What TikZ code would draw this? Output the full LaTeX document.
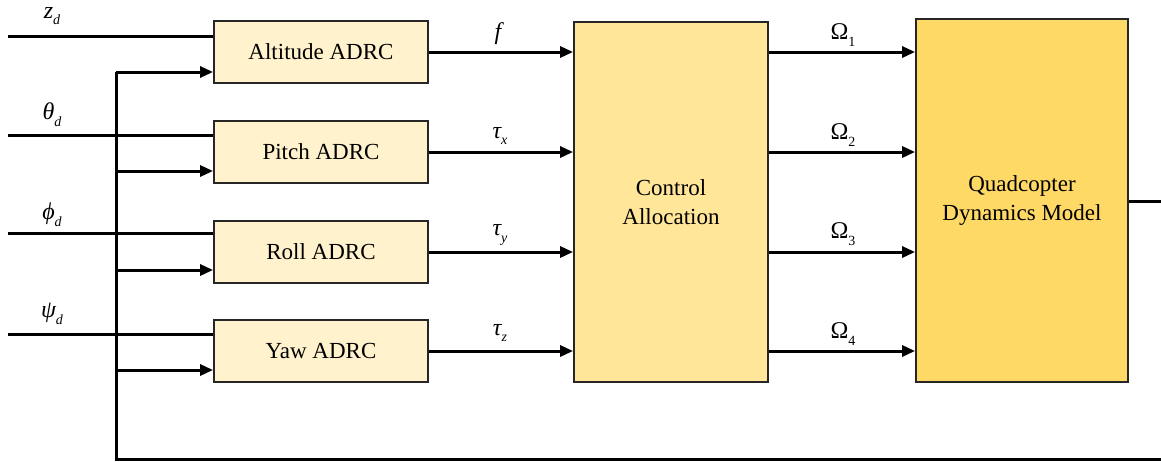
\documentclass[tikz,border=0pt]{standalone}
\usepackage{fontspec}
\setmainfont{Liberation Serif}
\usetikzlibrary{arrows.meta}
\definecolor{adrcfill}{HTML}{FFF2CC}
\definecolor{cafill}{HTML}{FFE699}
\definecolor{quadfill}{HTML}{FFD966}
\definecolor{boxline}{HTML}{262626}
\newcommand{\lblit}[2]{{\itshape #1}\raisebox{-0.28em}{\fontsize{14}{14}\selectfont\itshape #2}}
\newcommand{\lblup}[2]{#1\raisebox{-0.28em}{\fontsize{14}{14}\selectfont #2}}
\tikzset{
  blk/.style={draw=boxline, line width=1.8pt, align=center, inner sep=0pt,
    font=\fontsize{23}{29}\selectfont},
  adrc/.style={blk, fill=adrcfill, minimum width=214pt, minimum height=62pt},
  wire/.style={line width=3pt, black},
  arr/.style={wire, -{Triangle[length=13pt,width=11pt]}},
  lbl/.style={inner sep=0pt, font=\fontsize{24}{27}\selectfont}
}
\begin{document}
\begin{tikzpicture}[x=1pt,y=-1pt]
\useasboundingbox (0,0) rectangle (1161,461);
% blocks
\node[adrc] (alt) at (321,52) {Altitude ADRC};
\node[adrc] (pitch) at (321,152) {Pitch ADRC};
\node[adrc] (roll) at (321,252) {Roll ADRC};
\node[adrc] (yaw) at (321,351) {Yaw ADRC};
\node[blk, fill=cafill, minimum width=194pt, minimum height=360pt] (ca) at (671,202) {Control\\Allocation};
\node[blk, fill=quadfill, minimum width=212pt, minimum height=363pt] (quad) at (1022,200.5) {Quadcopter\\Dynamics Model};
% coordinates
\coordinate (in1) at (8,36);
\coordinate (in2) at (8,135);
\coordinate (in3) at (8,233);
\coordinate (in4) at (8,334);
\coordinate (fb1) at (116,72);
\coordinate (fb2) at (116,171);
\coordinate (fb3) at (116,270);
\coordinate (fb4) at (116,370);
\coordinate (fbB) at (116,459);
\coordinate (botR) at (1161,459);
\coordinate (outR) at (1161,201);
% reference inputs
\draw[wire] (in1) -- (in1 -| alt.west);
\draw[wire] (in2) -- (in2 -| pitch.west);
\draw[wire] (in3) -- (in3 -| roll.west);
\draw[wire] (in4) -- (in4 -| yaw.west);
% feedback
\draw[wire] (botR) -- (fbB) -- (fb1);
\draw[arr] (fb1) -- (fb1 -| alt.west);
\draw[arr] (fb2) -- (fb2 -| pitch.west);
\draw[arr] (fb3) -- (fb3 -| roll.west);
\draw[arr] (fb4) -- (fb4 -| yaw.west);
% ADRC to allocation
\draw[arr] (alt.east) -- (alt.east -| ca.west);
\draw[arr] (pitch.east) -- (pitch.east -| ca.west);
\draw[arr] (roll.east) -- (roll.east -| ca.west);
\draw[arr] (yaw.east) -- (yaw.east -| ca.west);
% allocation to quad
\coordinate (o1) at (ca.east |- alt.east);
\coordinate (o2) at (ca.east |- pitch.east);
\coordinate (o3) at (ca.east |- roll.east);
\coordinate (o4) at (ca.east |- yaw.east);
\draw[arr] (o1) -- (o1 -| quad.west);
\draw[arr] (o2) -- (o2 -| quad.west);
\draw[arr] (o3) -- (o3 -| quad.west);
\draw[arr] (o4) -- (o4 -| quad.west);
% output
\draw[wire] (quad.east |- outR) -- (outR);
% labels
\node[lbl] (lz) at (52,16) {\lblit{z}{d}};
\node[lbl] (lth) at (52,115) {\lblit{θ}{d}};
\node[lbl] (lph) at (52,215) {\lblit{ϕ}{d}};
\node[lbl] (lps) at (52,314) {\lblit{ψ}{d}};
\node[lbl] (lf) at (498,34) {\itshape f};
\node[lbl] (ltx) at (500,136) {\lblit{τ}{x}};
\node[lbl] (lty) at (500,235) {\lblit{τ}{y}};
\node[lbl] (ltz) at (500,333) {\lblit{τ}{z}};
\node[lbl] (lo1) at (843,35) {\lblup{Ω}{1}};
\node[lbl] (lo2) at (843,135) {\lblup{Ω}{2}};
\node[lbl] (lo3) at (843,234) {\lblup{Ω}{3}};
\node[lbl] (lo4) at (843,334) {\lblup{Ω}{4}};
\end{tikzpicture}
\end{document}
